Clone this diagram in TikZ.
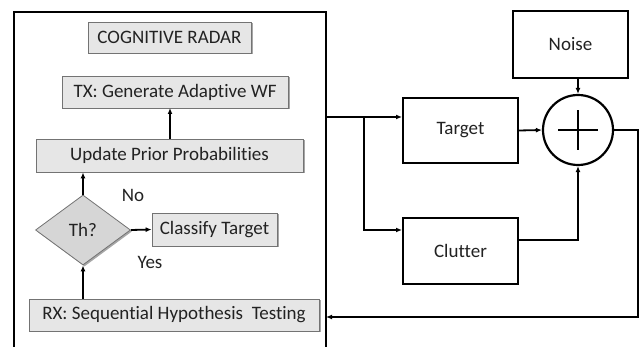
\documentclass[tikz,border=0pt]{standalone}
\usepackage{fontspec}
\setmainfont{Carlito}[Ligatures=NoCommon]
\usetikzlibrary{shapes.geometric,shadows,arrows.meta}
\definecolor{boxgray}{HTML}{E6E6E6}
\definecolor{diagray}{HTML}{D6D6D6}
\definecolor{txt}{HTML}{222222}
\tikzset{
  gbox/.style={draw=gray!90!black, line width=0.8pt, fill=boxgray, inner sep=0pt,
    drop shadow={shadow xshift=1.5pt, shadow yshift=-1.5pt, fill=gray!70, opacity=1},
    font=\fontsize{19}{22}\selectfont, text=txt},
  wbox/.style={draw=black, line width=2pt, fill=white, inner sep=0pt,
    font=\fontsize{19}{22}\selectfont, text=txt},
  arr/.style={line width=1.8pt, -{Latex[length=6pt,width=5pt]}},
  lbl/.style={font=\fontsize{19}{22}\selectfont, inner sep=0pt, text=txt},
}
\begin{document}
\begin{tikzpicture}[x=1pt,y=-1pt]
\useasboundingbox (0,0) rectangle (643,347);
% big cognitive radar frame
\draw[line width=2.5pt] (14,347) -- (14,12) -- (326,12) -- (326,347);
\coordinate (out) at (326,117);
\coordinate (in) at (326,317);
% gray boxes
\node[gbox, minimum width=163pt, minimum height=31pt] (cr) at (169.5,37.5) {COGNITIVE RADAR};
\node[gbox, minimum width=226pt, minimum height=32pt] (tx) at (175,92) {TX: Generate Adaptive WF};
\node[gbox, minimum width=267pt, minimum height=33pt] (up) at (169.5,155.5) {Update Prior Probabilities};
\node[diamond, draw=gray!90!black, line width=0.8pt, fill=diagray, minimum width=95pt, minimum height=70pt, inner sep=0pt, aspect=1.36,
  drop shadow={shadow xshift=1.5pt, shadow yshift=-1.5pt, fill=gray!70, opacity=1},
  font=\fontsize{19}{22}\selectfont, text=txt] (th) at (83,230) {Th?};
\node[gbox, minimum width=125pt, minimum height=33pt] (cl) at (214.5,229.5) {Classify Target};
\node[gbox, minimum width=290pt, minimum height=32pt] (rx) at (174,315) {RX: Sequential Hypothesis\ \ Testing};
\node[lbl] (no) at (133,195) {No};
\node[lbl] (yes) at (150,262) {Yes};
% left arrows
\draw[arr] (up.north -| 170,0) -- (170,108);
\draw[arr] (th.north) -- (th.north |- up.south);
\draw[arr] (th.east) -- (cl.west);
\draw[arr] (rx.north -| th.south) -- (th.south);
% right side
\node[wbox, minimum width=115pt, minimum height=67pt] (noise) at (570.5,44.5) {Noise};
\node[wbox, minimum width=115pt, minimum height=65pt] (tg) at (460.5,130.5) {Target};
\node[wbox, minimum width=115pt, minimum height=66pt] (clt) at (460.5,251) {Clutter};
\node[circle, draw=black, line width=2.2pt, minimum size=70pt, inner sep=0pt] (sum) at (578,130) {};
\draw[line width=2.2pt] ([xshift=-20pt]sum.center) -- ([xshift=20pt]sum.center);
\draw[line width=2.2pt] ([yshift=-20pt]sum.center) -- ([yshift=20pt]sum.center);
\coordinate (br) at (364,117);
\draw[arr] (out) -- (tg.west |- out);
\draw[arr] (br) -- (364,230) -- (clt.west |- 0,230);
\draw[arr] (tg.east) -- (sum.west);
\draw[arr] (noise.south -| sum.north) -- (sum.north);
\draw[arr] (clt.east |- 0,240) -- (578,240) -- (sum.south);
\draw[arr] (sum.east) -- (638,130) -- (638,317) -- (in);
\end{tikzpicture}
\end{document}
